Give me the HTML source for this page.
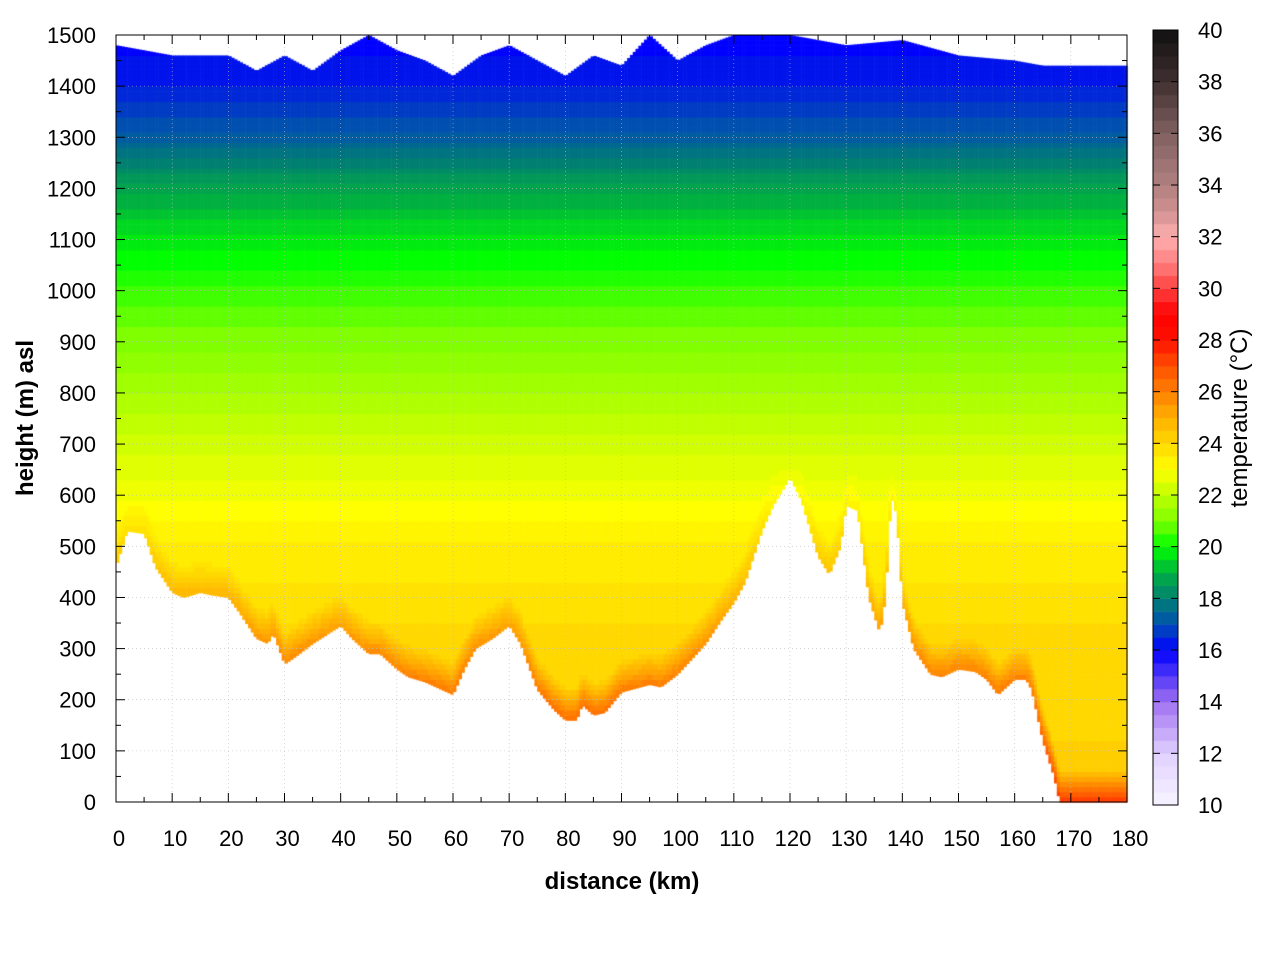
<!DOCTYPE html>
<html><head><meta charset="utf-8"><style>
body{margin:0;background:#fff;}
#wrap{position:relative;width:1280px;height:960px;font-family:"Liberation Sans",sans-serif;}
canvas{position:absolute;left:0;top:0;}
svg{position:absolute;left:0;top:0;}
text{font-family:"Liberation Sans",sans-serif;font-size:22px;fill:#000;}
</style></head><body>
<div id="wrap">
<canvas id="cv" width="1280" height="960"></canvas>
<svg id="sv" width="1280" height="960"></svg>
</div>
<script>
const distKm=[0,2,5,7,10,12,15,17,20,22,25,27,28,30,32,35,40,42,45,47,50,52,55,57,60,62,64,67,70,72,75,78,80,82,83,85,87,90,95,97,100,105,108,110,112,115,117,120,122,125,127,129,130,132,134,136,137,138,139,140,142,145,147,150,153,155,157,160,162,163,165,167,168,180];
const groundM=[460,530,525,460,410,400,410,405,400,370,320,310,330,270,285,310,345,320,290,290,260,245,235,225,210,260,300,320,345,310,220,180,160,160,190,170,175,215,230,225,250,310,360,390,430,530,580,635,590,480,445,500,580,570,400,330,400,600,560,390,300,250,245,260,255,240,210,240,240,220,120,50,0,0];
const topDist=[0,5,10,20,25,30,35,40,45,50,55,60,65,70,75,80,85,90,95,100,105,110,120,130,140,150,160,165,168,180];
const topM=[1480,1470,1460,1460,1430,1460,1430,1470,1500,1470,1450,1420,1460,1480,1450,1420,1460,1440,1500,1450,1480,1500,1500,1480,1490,1460,1450,1440,1440,1440];
const profH=[0,300,500,600,700,800,900,1000,1100,1200,1300,1400,1500];
const profT=[24.2,24,23.4,22.8,22.2,21.6,21,20.4,19.7,18.7,17.2,16.3,16];
const cbT=[10,12,14,16,17,18,19,20,21,22,23,24,25,26,27,28,29,30,31,32,33,34,36,38,40];
const cbC=['#f8f4ff','#e0d0ff','#a070f0','#0000ff','#0050b0','#008070','#00b040','#00ff00','#80ff00','#c0ff00','#ffff00','#ffd800','#ffb000','#ff8000','#ff5000','#ff1000','#ff0000','#ff4040','#ff8080','#ffb0b0','#d09090','#b08080','#806060','#403030','#101010'];
const xTicks=[0,10,20,30,40,50,60,70,80,90,100,110,120,130,140,150,160,170,180];
const yTicks=[0,100,200,300,400,500,600,700,800,900,1000,1100,1200,1300,1400,1500];
const cbTicks=[10,12,14,16,18,20,22,24,26,28,30,32,34,36,38,40];

const X0=116,X1=1127,Y0=802,Y1=35;
const sx=d=>X0+(X1-X0)*d/180, sy=h=>Y0-(Y0-Y1)*h/1500;
const CB={x:1153,w:25,y0:805,y1:30};
const cy=t=>CB.y0-(CB.y0-CB.y1)*(t-10)/30;
function lin(xs,ys,x){if(x<=xs[0])return ys[0];for(let i=1;i<xs.length;i++){if(x<=xs[i]){const f=(x-xs[i-1])/(xs[i]-xs[i-1]);return ys[i-1]+f*(ys[i]-ys[i-1]);}}return ys[ys.length-1];}
function hex(c){return [1,3,5].map(i=>parseInt(c.substr(i,2),16));}
function col(t){t=Math.max(10,Math.min(40,t));let i=1;while(i<cbT.length-1&&t>cbT[i])i++;const f=(t-cbT[i-1])/(cbT[i]-cbT[i-1]);const a=hex(cbC[i-1]),b=hex(cbC[i]);return 'rgb('+a.map((v,k)=>Math.round(v+f*(b[k]-v))).join(',')+')';}
const ctx=document.getElementById('cv').getContext('2d');
const dStep=0.5,hStep=10;
for(let d=0;d<180;d+=dStep){
  const g=lin(distKm,groundM,d+dStep/2), tp=lin(topDist,topM,d+dStep/2);
  for(let h=Math.floor(g/hStep)*hStep;h<tp;h+=hStep){
    const lo=Math.max(h,g),hi=Math.min(h+hStep,tp);
    let t=lin(profH,profT,lo);
    const above=lo-g; if(above<60) t+=(1-above/60)*3*Math.max(0,1-g/650);
    t=Math.round(t*4)/4;
    ctx.fillStyle=col(t);
    const x=sx(d),w=sx(d+dStep)-x+0.6;
    ctx.fillRect(x,sy(hi),w,sy(lo)-sy(hi)+0.6);
  }
}
for(let t=10;t<40;t+=0.5){ctx.fillStyle=col(t+0.25);ctx.fillRect(CB.x,cy(t+0.5),CB.w,cy(t)-cy(t+0.5)+0.5);}

const sv=document.getElementById('sv');const NS='http://www.w3.org/2000/svg';
function mk(tag,at,txt){const e=document.createElementNS(NS,tag);for(const k in at)e.setAttribute(k,at[k]);if(txt!==undefined)e.textContent=txt;sv.appendChild(e);return e;}
xTicks.forEach(v=>{const x=sx(v);
  if(v>0&&v<180){const g=mk('line',{x1:x,x2:x,y1:Y1,y2:Y0,stroke:'#bbb','stroke-width':0.6,'stroke-dasharray':'1,3'});
  }
  const t=mk('text',{x:x+3,y:846,'text-anchor':'middle'},v);
  
  mk('line',{x1:x,x2:x,y1:Y0,y2:Y0-9,stroke:'#000'});mk('line',{x1:x,x2:x,y1:Y1,y2:Y1+9,stroke:'#000'});
  if(v<180){const m=sx(v+5);mk('line',{x1:m,x2:m,y1:Y0,y2:Y0-5,stroke:'#000'});mk('line',{x1:m,x2:m,y1:Y1,y2:Y1+5,stroke:'#000'});}
});
yTicks.forEach(v=>{const y=sy(v);
  if(v>0&&v<1500){const g=mk('line',{x1:X0,x2:X1,y1:y,y2:y,stroke:'#bbb','stroke-width':0.6,'stroke-dasharray':'1,3'});
  }
  const t=mk('text',{x:96,y:y+8,'text-anchor':'end'},v);
  
  mk('line',{x1:X0,x2:X0+9,y1:y,y2:y,stroke:'#000'});mk('line',{x1:X1,x2:X1-9,y1:y,y2:y,stroke:'#000'});
  if(v<1500){const m=sy(v+50);mk('line',{x1:X0,x2:X0+5,y1:m,y2:m,stroke:'#000'});mk('line',{x1:X1,x2:X1-5,y1:m,y2:m,stroke:'#000'});}
});
const fr=mk('rect',{x:X0,y:Y1,width:X1-X0,height:Y0-Y1,fill:'none',stroke:'#000'});

cbTicks.forEach(v=>{const y=cy(v);
  const t=mk('text',{x:1198,y:y+8},v);
  
  mk('line',{x1:CB.x,x2:CB.x+7,y1:y,y2:y,stroke:'#000'});mk('line',{x1:CB.x+CB.w,x2:CB.x+CB.w-7,y1:y,y2:y,stroke:'#000'});
});
const cf=mk('rect',{x:CB.x,y:CB.y1,width:CB.w,height:CB.y0-CB.y1,fill:'none',stroke:'#000'});

const xt=mk('text',{x:622,y:889,'text-anchor':'middle','font-weight':'bold',style:'font-size:24px'},'distance (km)');

const yt=mk('text',{x:0,y:0,'text-anchor':'middle','font-weight':'bold',transform:'translate(33,418) rotate(-90)',style:'font-size:24px'},'height (m) asl');

const ct=mk('text',{x:0,y:0,'text-anchor':'middle',transform:'translate(1247,418) rotate(-90)',style:'font-size:24px'},'temperature (°C)');

</script>
</body></html>
